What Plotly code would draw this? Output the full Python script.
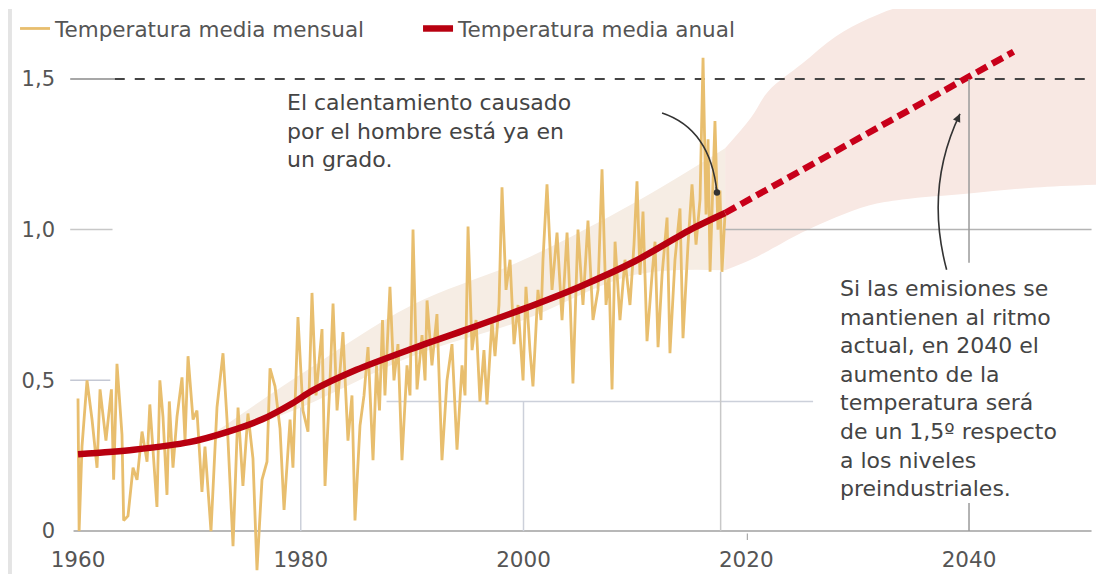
import plotly.graph_objects as go

# ---------------- data ----------------
month_years = [
    1960.0, 1960.1, 1960.36, 1960.81, 1961.26, 1961.71, 1961.98, 1962.51, 1963.0, 1963.2,
    1963.5, 1963.95, 1964.1, 1964.49, 1964.94, 1965.3, 1965.75, 1966.2, 1966.45, 1966.82,
    1967.09, 1967.35, 1967.63, 1967.99, 1968.2, 1968.53, 1968.89, 1969.34, 1969.61, 1969.88,
    1970.33, 1970.68, 1971.13, 1971.4, 1971.94, 1972.48, 1973.02, 1973.38, 1973.92, 1974.37,
    1974.81, 1975.26, 1975.71, 1976.07, 1976.52, 1976.97, 1977.24, 1977.69, 1978.14, 1978.5,
    1979.04, 1979.3, 1979.75, 1980.2, 1980.65, 1981.01, 1981.37, 1981.91, 1982.18, 1982.63,
    1982.9, 1983.26, 1983.79, 1984.24, 1984.6, 1984.87, 1985.32, 1985.68, 1986.04, 1986.49,
    1986.8, 1987.07, 1987.34, 1987.56, 1988.01, 1988.37, 1988.73, 1989.09, 1989.54, 1989.81,
    1990.08, 1990.44, 1990.89, 1991.16, 1991.34, 1991.78, 1992.23, 1992.68, 1993.13, 1993.58,
    1994.03, 1994.48, 1994.75, 1995.02, 1995.38, 1995.74, 1996.09, 1996.45, 1996.72, 1997.17,
    1997.44, 1997.8, 1998.07, 1998.43, 1998.79, 1999.15, 1999.51, 1999.96, 2000.22, 2000.58,
    2000.85, 2001.3, 2001.57, 2001.75, 2002.11, 2002.56, 2003.01, 2003.46, 2003.91, 2004.2,
    2004.44, 2004.89, 2005.34, 2005.79, 2006.24, 2006.69, 2007.05, 2007.41, 2007.68, 2007.95,
    2008.22, 2008.66, 2009.11, 2009.56, 2009.92, 2010.19, 2010.46, 2010.73, 2011.09, 2011.54,
    2011.81, 2012.08, 2012.44, 2012.89, 2013.15, 2013.6, 2014.05, 2014.32, 2014.77, 2015.13,
    2015.49, 2015.85, 2016.12, 2016.39, 2016.57, 2016.75, 2017.19, 2017.46, 2017.64, 2017.82,
    2018.09,
]
month_values = [
    0.44, 0.00, 0.28, 0.50, 0.37, 0.21, 0.47, 0.30, 0.47, 0.17,
    0.555, 0.32, 0.035, 0.05, 0.21, 0.17, 0.33, 0.23, 0.42, 0.21,
    0.08, 0.50, 0.38, 0.12, 0.43, 0.21, 0.38, 0.51, 0.30, 0.58,
    0.37, 0.40, 0.13, 0.28, 0.00, 0.41, 0.59, 0.37, -0.05, 0.41,
    0.15, 0.39, 0.24, -0.13, 0.17, 0.23, 0.54, 0.48, 0.34, 0.07,
    0.37, 0.21, 0.71, 0.40, 0.33, 0.79, 0.45, 0.67, 0.15, 0.50,
    0.755, 0.40, 0.66, 0.30, 0.45, 0.035, 0.35, 0.45, 0.61, 0.235,
    0.55, 0.40, 0.70, 0.45, 0.81, 0.50, 0.62, 0.235, 0.55, 0.45,
    1.00, 0.47, 0.65, 0.50, 0.765, 0.55, 0.72, 0.235, 0.50, 0.62,
    0.27, 0.55, 0.45, 1.01, 0.60, 0.70, 0.43, 0.60, 0.42, 0.70,
    0.58, 0.75, 1.14, 0.80, 0.90, 0.62, 0.75, 0.50, 0.81, 0.60,
    0.48, 0.80, 0.70, 0.90, 1.15, 0.80, 0.99, 0.70, 0.99, 0.75,
    0.49, 1.00, 0.75, 1.03, 0.70, 0.80, 1.20, 0.75, 0.85, 0.47,
    0.96, 0.70, 0.90, 0.75, 0.95, 1.16, 0.85, 1.06, 0.63, 0.85,
    0.96, 0.61, 0.85, 1.04, 0.59, 0.90, 1.07, 0.64, 0.95, 1.15,
    0.95, 1.10, 1.57, 1.05, 1.30, 0.86, 1.36, 1.00, 1.13, 0.86,
    1.05,
]

annual_years = [1960, 1965, 1970, 1973.5, 1976.5, 1979.3, 1981, 1985, 1990, 1995, 2000, 2005, 2010, 2015, 2018.1]
annual_values = [0.255, 0.27, 0.295, 0.33, 0.37, 0.425, 0.465, 0.535, 0.605, 0.67, 0.737, 0.81, 0.895, 1.00, 1.055]

proj_years = [2018.1, 2044.0]
proj_values = [1.055, 1.59]

band_years = [1972, 1980, 1990, 2000, 2010, 2018.1]
band_upper = [0.32, 0.52, 0.75, 0.90, 1.09, 1.27]
band_lower = [0.30, 0.41, 0.58, 0.70, 0.85, 0.865]

cone_years = [2018.1, 2020.4, 2022, 2025, 2028, 2031, 2034, 2040, 2046, 2052.2]
cone_upper = [1.27, 1.37, 1.46, 1.55, 1.64, 1.70, 1.74, 1.76, 1.76, 1.76]
cone_lower = [0.865, 0.90, 0.93, 0.99, 1.04, 1.08, 1.10, 1.12, 1.14, 1.15]

x_ticks = [1960, 1980, 2000, 2020, 2040]
y_ticks = [0, 0.5, 1.0, 1.5]
y_ticktext = ["0", "0,5", "1,0", "1,5"]

FONT = "DejaVu Sans"
TXT = "#555555"

fig = go.Figure()

# uncertainty band (historical) and projection cone
fig.add_trace(go.Scatter(x=band_years, y=band_upper, mode="lines", line=dict(width=0, shape="spline"),
                         showlegend=False, hoverinfo="skip"))
fig.add_trace(go.Scatter(x=band_years, y=band_lower, mode="lines", line=dict(width=0, shape="spline"),
                         fill="tonexty", fillcolor="#f6ede4", showlegend=False, hoverinfo="skip"))
fig.add_trace(go.Scatter(x=cone_years, y=cone_upper, mode="lines", line=dict(width=0, shape="spline"),
                         showlegend=False, hoverinfo="skip"))
fig.add_trace(go.Scatter(x=cone_years, y=cone_lower, mode="lines", line=dict(width=0, shape="spline"),
                         fill="tonexty", fillcolor="#f8e8e3", showlegend=False, hoverinfo="skip"))

# 1.5 reference line (dashed) drawn as trace so data lines sit on top
fig.add_trace(go.Scatter(x=[1959.3, 1963.3], y=[1.5, 1.5], mode="lines",
                         line=dict(color="#8a8a8a", width=1.5), showlegend=False, hoverinfo="skip"))
fig.add_trace(go.Scatter(x=[1963.3, 2051.0], y=[1.5, 1.5], mode="lines",
                         line=dict(color="#444444", width=2, dash="10px,10px"), showlegend=False, hoverinfo="skip"))

fig.add_trace(go.Scatter(x=month_years, y=month_values, mode="lines", name="Temperatura media mensual",
                         line=dict(color="#e8be6e", width=2.8)))
fig.add_trace(go.Scatter(x=annual_years, y=annual_values, mode="lines", name="Temperatura media anual",
                         line=dict(color="#b80010", width=6.5, shape="spline", smoothing=0.8)))
fig.add_trace(go.Scatter(x=proj_years, y=proj_values, mode="lines", showlegend=False,
                         line=dict(color="#c8001a", width=6.5, dash="12px,6px")))

shapes = []
def hline(y, x0, x1, color, width=1.5, layer="below"):
    shapes.append(dict(type="line", xref="x", yref="y", x0=x0, x1=x1, y0=y, y1=y,
                       line=dict(color=color, width=width), layer=layer))
def vline(x, y0, y1, color, width=1.5, layer="below"):
    shapes.append(dict(type="line", xref="x", yref="y", x0=x, x1=x, y0=y0, y1=y1,
                       line=dict(color=color, width=width), layer=layer))

hline(0, 1959.6, 2051.0, "#a0a0a0", 1.6)
hline(1.0, 1959.3, 1963.1, "#c8c8c8")
hline(0.5, 1959.3, 1962.9, "#c4c8d4")
hline(0.43, 1987.7, 2026.0, "#ccd0da")
hline(1.0, 2018.1, 2051.0, "#b4b4b4", 1.5, "above")
vline(1980, 0, 0.45, "#ccd0da")
vline(2000, 0, 0.43, "#ccd0da")
vline(2017.7, 0, 0.86, "#c8c8c8")
vline(2040, 0.89, 1.5, "#9a9a9a", 1.5, "above")
vline(2040, 0, 0.093, "#9a9a9a", 1.5)
vline(2020.1, -0.008, -0.03, "#aaaaaa", 1.2)

# left page border
shapes.append(dict(type="line", xref="paper", yref="paper", x0=-0.054, x1=-0.054, y0=0, y1=1,
                   line=dict(color="#e4e4e4", width=4)))

# curved arrows
shapes.append(dict(type="path", xref="x", yref="y", layer="above",
                   path="M 2012.44,1.387 Q 2016.79,1.334 2017.37,1.123",
                   line=dict(color="#333333", width=1.6)))
shapes.append(dict(type="path", xref="x", yref="y", layer="above",
                   path="M 2037.99,0.867 Q 2036.01,1.140 2039.19,1.384",
                   line=dict(color="#333333", width=1.6)))

annotations = [
    dict(x=1978.59, y=1.47, xref="x", yref="y", xanchor="left", yanchor="top", align="left",
         showarrow=False, font=dict(family=FONT, size=22, color="#444444"),
         text="El calentamiento causado<br>por el hombre está ya en<br>un grado."),
    dict(x=2028.24, y=0.852, xref="x", yref="y", xanchor="left", yanchor="top", align="left",
         showarrow=False, font=dict(family=FONT, size=22, color="#444444"),
         text="Si las emisiones se<br>mantienen al ritmo<br>actual, en 2040 el<br>aumento de la<br>"
              "temperatura será<br>de un 1,5º respecto<br>a los niveles<br>preindustriales."),
    dict(x=2017.37, y=1.123, xref="x", yref="y", ax=-1, ay=-7, text="", showarrow=True,
         arrowhead=6, arrowsize=1, arrowwidth=1.6, arrowcolor="#333333"),
    dict(x=2039.19, y=1.384, xref="x", yref="y", ax=-3.5, ay=7.5, text="", showarrow=True,
         arrowhead=2, arrowsize=1, arrowwidth=1.6, arrowcolor="#333333"),
]

fig.update_layout(
    width=1096, height=566,
    margin=dict(l=58, r=0, t=0, b=0),
    paper_bgcolor="white", plot_bgcolor="white",
    font=dict(family=FONT, color=TXT),
    shapes=shapes, annotations=annotations,
    legend=dict(orientation="h", x=-0.0491, y=1.002, xanchor="left", yanchor="top",
                traceorder="normal",
                font=dict(family=FONT, size=21.5, color=TXT), bgcolor="rgba(0,0,0,0)",
                entrywidth=358, entrywidthmode="pixels", itemwidth=30),
    xaxis=dict(range=[1958.923, 2052.12], showgrid=False, zeroline=False, showline=False,
               tickvals=x_ticks, ticks="", ticklabelposition="inside", ticklabeloverflow="allow",
               tickfont=dict(family=FONT, size=21.5, color=TXT)),
    yaxis=dict(range=[-0.1424, 1.7318], showgrid=False, zeroline=False, showline=False,
               tickvals=y_ticks, ticktext=y_ticktext, ticks="", ticklabelstandoff=10,
               tickfont=dict(family=FONT, size=21, color=TXT)),
    showlegend=True,
)

fig.write_html("out.html")
